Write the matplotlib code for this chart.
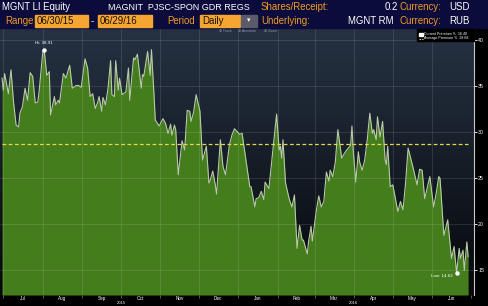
import numpy as np
import pandas as pd
import matplotlib
matplotlib.use('Agg')
import matplotlib.pyplot as plt
import matplotlib.dates as mdates
from matplotlib.patches import Rectangle
from matplotlib.lines import Line2D
from matplotlib.transforms import blended_transform_factory

plt.rcParams['font.family'] = ['Liberation Sans', 'DejaVu Sans']

start = pd.Timestamp('2015-06-30')
# days after 06/30/15 and premium %
days = [0, 1, 2, 5, 7, 9, 11, 13, 14, 16, 18, 20, 22, 24, 26, 28, 29, 32, 33, 35,
        37, 38, 41, 42, 44, 45, 48, 50, 53, 55, 58, 60, 62, 65, 67, 69, 71, 73, 75, 76,
        78, 79, 81, 83, 85, 86, 88, 89, 91,
        92, 94, 97, 99, 100, 103, 104, 106, 109, 110, 111, 114, 116, 117, 119, 120, 123, 126, 128, 130,
        132, 133, 135, 136, 138, 141, 143, 145, 147, 148, 150, 152, 155, 157, 160, 162, 163, 165, 167, 168,
        171, 173, 175, 178, 180, 182, 184,
        186, 188, 194, 195, 198, 199, 201, 203, 205, 206, 209, 212, 215, 217, 218, 219, 220, 222, 225, 227,
        229, 231, 233, 235, 236, 239, 240, 242, 243, 246, 248, 250, 252, 254, 256, 257, 259, 261, 263, 266,
        268, 270, 273, 274, 275, 277, 279,
        280, 282, 284, 286, 288, 290, 291, 293, 294, 296, 298, 300, 301, 302, 304, 306, 310, 312, 314, 316,
        318, 322, 325, 327, 329, 331, 335, 338, 340, 342, 343, 346, 349, 352, 354, 356, 358, 359, 361, 362,
        364, 365]
premium = [35.8, 34.5, 36.3, 34.1, 36.7, 33.2, 30.7, 30.5, 32.0, 32.7, 34.7, 33.4, 36.4, 36.0, 33.1, 33.2, 34.3, 38.75, 38.91, 36.1,
           36.5, 31.8, 33.8, 32.9, 33.4, 33.1, 36.3, 35.8, 37.2, 34.7, 35.0, 35.0, 34.8, 37.9, 36.9, 33.8, 34.1, 32.5, 33.2, 33.8,
           32.2, 33.7, 32.9, 34.7, 37.7, 34.0, 33.8, 37.7, 34.5,
           35.8, 34.0, 34.3, 36.9, 33.4, 38.0, 37.8, 38.4, 34.7, 36.2, 36.0, 38.7, 36.1, 38.9, 34.0, 31.25, 30.6, 31.4, 30.9, 29.8,
           30.8, 29.6, 30.7, 30.2, 25.3, 29.0, 28.0, 32.3, 32.2, 31.1, 32.1, 34.0, 32.2, 26.9, 28.4, 24.4, 24.7, 25.7, 24.2, 23.2,
           29.1, 26.2, 25.3, 28.5, 29.6, 30.3, 30.0,
           29.7, 29.8, 24.0, 24.0, 21.8, 22.7, 22.8, 23.5, 22.6, 24.5, 23.8, 27.8, 31.9, 28.0, 28.4, 27.1, 29.1, 24.4, 22.6, 21.8,
           23.1, 17.3, 19.8, 18.2, 18.2, 16.7, 18.0, 19.7, 18.1, 21.3, 23.0, 21.8, 22.4, 25.6, 24.6, 25.8, 25.1, 26.7, 30.2, 27.1,
           27.6, 28.0, 28.5, 30.6, 28.0, 24.5, 27.8,
           26.7, 25.8, 26.9, 29.1, 32.0, 29.8, 30.2, 29.1, 31.6, 29.4, 31.1, 26.9, 26.4, 28.4, 24.0, 24.2, 21.3, 22.4, 21.5, 24.4,
           28.2, 26.0, 24.2, 25.9, 25.8, 22.7, 25.1, 21.8, 23.3, 25.1, 24.9, 18.7, 20.4, 16.2, 17.5, 14.62, 17.3, 16.2, 17.1, 14.9,
           18.0, 16.4]
average = 28.68
current = 16.40
y_ticks = [15, 20, 25, 30, 35, 40]

dates = start + pd.to_timedelta(days, unit='D')
W, H = 488, 306

def fx(x):
    return x / W

def fy(y):
    return 1 - y / H

fig = plt.figure(figsize=(W / 100, H / 100), dpi=100, facecolor='black')

# header bars
navy = '#0c0c3c'
orange = '#f39c22'
fig.patches.append(Rectangle((0, fy(28)), 1, 28 / H, transform=fig.transFigure, color=navy, zorder=0))
fs = 6.9
hdr = dict(fontsize=fs, va='center', ha='left')
r1, r2 = fy(7), fy(21)
fig.text(fx(2), r1, 'MGNT LI Equity', color='white', **hdr)
fig.text(fx(108), r1, 'MAGNIT  PJSC-SPON GDR REGS', color='white', fontsize=6.5, va='center', ha='left')
fig.text(fx(261), r1, 'Shares/Receipt:', color=orange, **hdr)
fig.text(fx(398), r1, '0.2', color='white', fontsize=fs, va='center', ha='right')
fig.text(fx(400), r1, 'Currency:', color=orange, **hdr)
fig.text(fx(449), r1, 'USD', color='white', **hdr)

for x0, x1 in [(35, 88), (98, 152), (200, 240)]:
    fig.patches.append(Rectangle((fx(x0), fy(27)), fx(x1 - x0), 12 / H, transform=fig.transFigure,
                                 color='#f5a531', zorder=1))
fig.patches.append(Rectangle((fx(241), fy(27)), fx(16), 12 / H, transform=fig.transFigure,
                             color='#5a5a6a', zorder=1))
fig.text(fx(249), r2, '\u25be', color='white', fontsize=5, ha='center', va='center')
fig.text(fx(5), r2, 'Range', color=orange, **hdr)
fig.text(fx(37), r2, '06/30/15', color='#1a1000', **hdr)
fig.text(fx(91), r2, '-', color='white', **hdr)
fig.text(fx(100), r2, '06/29/16', color='#1a1000', **hdr)
fig.text(fx(167), r2, 'Period', color=orange, **hdr)
fig.text(fx(202), r2, 'Daily', color='#1a1000', **hdr)
fig.text(fx(261), r2, 'Underlying:', color=orange, **hdr)
fig.text(fx(393), r2, 'MGNT RM', color='white', fontsize=fs, va='center', ha='right')
fig.text(fx(400), r2, 'Currency:', color=orange, **hdr)
fig.text(fx(449), r2, 'RUB', color='white', **hdr)

# main chart
ax = fig.add_axes([0, fy(295), fx(474), (295 - 28) / H])
ymin, ymax = 12.23, 41.25
x_lo = start - pd.Timedelta(days=1.6)
x_hi = start + pd.Timedelta(days=369.6)
ax.set_xlim(x_lo, x_hi)
ax.set_ylim(ymin, ymax)

grad = np.linspace(0, 1, 256).reshape(-1, 1)
cmap = matplotlib.colors.LinearSegmentedColormap.from_list('bg', ['#263243', '#06080b'])
ax.imshow(grad, extent=[mdates.date2num(x_lo), mdates.date2num(x_hi), ymin, ymax],
          aspect='auto', cmap=cmap, origin='upper', zorder=0)

ax.fill_between(dates, premium, ymin, color='#447d1b', lw=0, zorder=1)
ax.plot(dates, premium, color='#b9c9a8', lw=0.8, zorder=3)
ax.plot([dates[0], dates[-1]], [average, average], color='#e6d84a', lw=0.9, ls=(0, (3, 2)), zorder=4)

# grid
for m in pd.date_range('2015-07-01', '2016-06-01', freq='MS'):
    ax.axvline(m, color='white', alpha=0.13, lw=0.6, zorder=2)
for t in y_ticks:
    ax.axhline(t, color='white', alpha=0.13, lw=0.6, zorder=2)

# hi / low markers
i_hi = int(np.argmax(premium))
i_lo = int(np.argmin(premium))
ax.plot(dates[i_hi], premium[i_hi], 'o', color='white', ms=2.2, zorder=5)
ax.plot(dates[i_lo], premium[i_lo], 'o', color='white', ms=2.2, zorder=5)
ax.annotate('Hi: %.2f' % premium[i_hi], (dates[i_hi], premium[i_hi]), xytext=(0, 3),
            textcoords='offset points', ha='center', va='bottom', color='white', fontsize=3.2, zorder=6)
ax.annotate('Low: %.2f' % premium[i_lo], (dates[i_lo], premium[i_lo]), xytext=(-3, -1),
            textcoords='offset points', ha='right', va='top', color='white', fontsize=3.2, zorder=6)

# axes styling
for s in ['top', 'left', 'bottom']:
    ax.spines[s].set_visible(False)
ax.spines['right'].set_color('#c8c8c8')
ax.spines['right'].set_linewidth(0.8)
ax.yaxis.tick_right()
ax.set_yticks(y_ticks)
ax.set_yticklabels([str(t) for t in y_ticks])
ax.tick_params(axis='y', colors='white', labelsize=3.8, length=2, width=0.6, pad=1)

ax.xaxis.set_major_locator(mdates.MonthLocator(bymonthday=16))
ax.xaxis.set_major_formatter(mdates.DateFormatter('%b'))
ax.xaxis.set_minor_locator(mdates.MonthLocator())
ax.tick_params(axis='x', which='major', length=0, colors='white', labelsize=3.3, pad=1)
ax.tick_params(axis='x', which='minor', length=2, color='#808080', width=0.5)

yr_trans = blended_transform_factory(ax.transData, fig.transFigure)
for yr, c in [('2015', '2015-10-01'), ('2016', '2016-03-31')]:
    ax.text(pd.Timestamp(c), fy(303), yr, transform=yr_trans,
            ha='center', va='center', color='white', fontsize=3.0)

# toolbar
for x, lab in [(219, '\u2295 Track'), (238, '\u2298 Annotate'), (264, '\u2295 Zoom')]:
    fig.text(fx(x), fy(31), lab, color='#8a96a6', fontsize=2.6, va='center', ha='left')

# legend box
fig.patches.append(Rectangle((fx(417), fy(41)), fx(57), 12 / H, transform=fig.transFigure,
                             color='black', zorder=5))
fig.patches.append(Rectangle((fx(419), fy(36)), fx(3.5), 3.5 / H, transform=fig.transFigure,
                             color='white', zorder=6))
fig.lines.append(Line2D([fx(419), fx(423)], [fy(38.5), fy(38.5)], transform=fig.transFigure,
                        color='#e6d84a', lw=0.8, ls=(0, (1.5, 1)), zorder=6))
fig.text(fx(424), fy(34), 'Current Premium %%  %.2f' % current, color='white', fontsize=2.6,
         va='center', ha='left', zorder=7)
fig.text(fx(424), fy(38.5), 'Average Premium %%  %.2f' % average, color='white', fontsize=2.6,
         va='center', ha='left', zorder=7)

fig.savefig('out.png', dpi=100, facecolor='black')
